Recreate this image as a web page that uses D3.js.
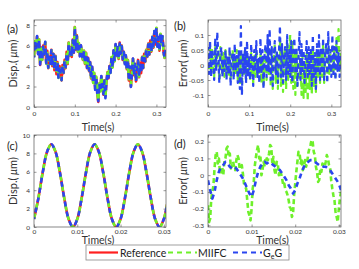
<!DOCTYPE html>
<html><head><meta charset="utf-8">
<script src="https://cdn.jsdelivr.net/npm/d3@7/dist/d3.min.js"></script>
<style>body{margin:0;background:#fff}svg{display:block;font-family:Lato,"Open Sans",sans-serif}</style>
</head><body><svg id="c" width="359" height="269"></svg>
<script>
// ---------- DATA ----------
const stepLong = 0.0025;   // sampling of panels (a),(b)
const stepC = 0.001;       // sampling of panel (c)
const stepD = 0.0005;      // sampling of GeG error in panel (d)
const stepDfine = 0.00025; // sampling of MIIFC error in panel (d)

const refA = [
4.9,6.4,5.6,6.9,5.2,6.6,4.1,5.8,4.6,6.0,
5.1,6.3,4.3,5.5,3.8,4.9,4.2,5.6,4.0,5.2,
3.6,5.0,3.2,4.4,2.9,4.0,3.4,2.6,4.1,3.3,
4.6,3.8,5.4,4.2,6.3,5.0,5.8,4.9,6.6,5.3,
7.8,5.6,7.0,5.4,6.2,5.0,6.0,5.2,4.6,5.5,
4.2,5.3,3.8,4.8,3.5,4.4,2.8,3.9,2.4,3.3,
1.8,2.9,1.4,0.5,2.3,1.6,3.0,2.1,1.2,2.6,
1.0,2.4,3.4,2.8,4.0,3.4,4.8,3.9,5.5,4.5,
6.1,5.0,5.8,4.7,6.3,5.2,6.0,4.6,5.4,4.3,
5.0,3.7,4.6,2.6,3.9,2.0,3.4,4.7,3.1,4.2,
2.5,3.8,4.6,2.9,4.3,3.3,4.9,3.8,5.2,4.4,
5.6,4.9,6.2,5.1,6.5,5.4,6.8,5.8,7.4,6.1,
7.7,6.0,6.8,5.5,7.1,6.2,6.9,5.4,4.8,5.6];

const errGeG_B = [
0.06,-0.03,0.08,-0.04,0.05,0.02,-0.05,0.09,-0.02,0.11,
0.04,-0.06,0.03,0.06,-0.04,0.02,-0.02,0.05,-0.05,0.03,
-0.03,0.06,-0.07,0.02,0.04,-0.05,0.07,-0.02,0.03,-0.06,
0.05,-0.08,0.13,-0.1,0.04,-0.03,0.06,-0.06,0.08,-0.04,
0.03,-0.05,0.07,0.0,-0.07,0.05,-0.02,0.08,-0.04,0.02,
-0.06,0.09,-0.03,0.05,-0.08,0.03,0.07,-0.04,0.1,-0.02,
0.12,-0.05,0.06,-0.07,0.03,0.08,-0.03,0.05,-0.06,0.04,
0.13,-0.04,0.07,-0.06,0.02,0.06,-0.05,0.1,-0.03,0.05,
-0.04,0.08,-0.06,0.04,0.09,-0.03,0.06,-0.07,0.02,0.11,
-0.05,0.07,-0.02,0.05,-0.06,0.03,0.08,-0.04,0.06,-0.03,
0.05,-0.07,0.1,-0.04,0.04,-0.08,0.07,-0.02,0.1,-0.05,
0.06,-0.03,0.09,-0.05,0.04,0.07,-0.06,0.11,-0.02,0.05,
-0.04,0.1,-0.03,0.06,-0.05,0.08,-0.02,0.04,-0.04,0.03];

const errMIIFC_B = [
0.04,-0.02,0.06,-0.03,0.05,0.0,-0.04,0.06,-0.01,0.03,
0.05,-0.05,0.06,0.02,-0.03,0.04,-0.04,0.05,-0.02,0.03,
-0.04,0.04,-0.05,0.03,0.05,-0.04,0.02,-0.03,0.05,-0.05,
0.03,-0.06,0.04,-0.07,0.02,-0.03,0.05,-0.05,0.03,-0.02,
0.02,-0.05,0.04,-0.02,-0.06,0.03,-0.04,0.05,-0.03,0.01,
-0.05,0.04,-0.06,0.03,-0.07,0.02,0.05,-0.05,0.04,-0.03,
0.06,-0.07,0.05,-0.08,0.02,0.07,-0.06,0.04,-0.08,0.03,
0.08,-0.07,0.05,-0.09,0.03,0.06,-0.08,0.07,-0.05,0.04,
0.1,-0.06,0.08,-0.08,0.04,-0.1,0.05,-0.07,0.03,-0.05,
0.02,-0.1,0.03,-0.11,0.01,-0.09,0.04,-0.12,0.02,-0.08,
0.04,-0.1,0.06,-0.07,0.02,-0.09,0.05,-0.04,0.03,-0.06,
0.05,-0.04,0.07,-0.06,0.03,0.06,-0.05,0.08,-0.03,0.04,
-0.03,0.07,-0.02,0.05,-0.04,0.09,0.02,0.12,-0.02,0.04];

const refC = [0.86,3.11,5.89,8.14,9.0,8.14,5.89,3.11,0.86,0.0,
0.86,3.11,5.89,8.14,9.0,8.14,5.89,3.11,0.86,0.0,
0.86,3.11,5.89,8.14,9.0,8.14,5.89,3.11,0.86,0.0,
0.86,3.11];

const errMIIFC_D = [
-0.18,-0.28,-0.26,-0.14,-0.10,-0.06,0.04,0.12,0.14,0.07,
0.10,0.01,0.02,0.05,0.00,0.08,0.10,0.16,0.17,0.11,
0.13,0.04,0.06,0.08,0.05,0.03,0.09,0.12,0.10,0.04,
0.05,0.06,0.01,-0.05,-0.07,-0.08,-0.15,-0.22,-0.24,-0.27,
-0.20,-0.08,-0.04,0.06,0.11,0.15,0.18,0.10,0.12,0.00,
0.03,0.08,0.05,0.11,0.10,0.09,0.13,0.18,0.17,0.07,
0.11,0.03,0.00,0.08,0.07,0.00,0.03,0.01,-0.02,-0.06,
-0.05,-0.09,-0.10,-0.12,-0.15,-0.19,-0.20,-0.25,-0.23,-0.12,
-0.05,0.02,0.08,0.14,0.13,0.07,0.10,0.03,0.05,0.09,
0.05,0.08,0.13,0.16,0.18,0.21,0.20,0.14,0.12,0.05,
0.02,-0.04,-0.03,0.04,0.02,0.07,0.06,0.05,0.08,0.12,
0.10,0.06,0.04,-0.03,-0.08,-0.12,-0.15,-0.22,-0.25,-0.28,
-0.20,-0.14,-0.10];

const errGeG_D = [
-0.03,-0.09,-0.14,-0.10,-0.03,0.02,0.05,0.06,0.08,0.07,
0.05,0.04,0.05,0.04,0.02,0.00,-0.02,-0.05,-0.08,-0.11,
-0.13,-0.09,-0.03,0.02,0.05,0.07,0.08,0.07,0.08,0.07,
0.06,0.05,0.04,0.03,0.01,-0.01,-0.03,-0.06,-0.08,-0.11,
-0.09,-0.05,-0.02,0.02,0.05,0.07,0.08,0.09,0.09,0.08,
0.07,0.06,0.06,0.05,0.05,0.04,0.03,0.01,-0.01,-0.03,
-0.05,-0.09];

const ticksLongX = [0,0.1,0.2,0.3];
const ticksShortX = [0,0.01,0.02,0.03];
const ticksA = [0,2,4,6,8];
const ticksB = [-0.1,-0.05,0,0.05,0.1];
const ticksC = [0,2,4,6,8,10];
const ticksD = [-0.3,-0.2,-0.1,0,0.1,0.2];

const legendNames = ["Reference","MIIFC","GeG"];
const colors = {ref:"#ff1f1f", miifc:"#6ef02a", geg:"#2a46f0"};

// ---------- DRAW ----------
const svg = d3.select("#c");
const fmt = d => String(+d.toFixed(4));
let clipId = 0;

function panel(o){
  const x = d3.scaleLinear().domain(o.xd).range([o.l,o.r]);
  const y = d3.scaleLinear().domain(o.yd).range([o.b,o.t]);
  const g = svg.append("g");
  const id = "clip"+(clipId++);
  svg.append("clipPath").attr("id",id).append("rect")
    .attr("x",o.l).attr("y",o.t).attr("width",o.r-o.l).attr("height",o.b-o.t);
  const pg = g.append("g").attr("clip-path",`url(#${id})`);
  o.series.forEach(s=>{
    const line = d3.line().x((d,i)=>x(i*s.step)).y(d=>y(d));
    if (s.curve) line.curve(s.curve);
    pg.append("path").attr("d",line(s.data)).attr("fill","none")
      .attr("stroke",s.color).attr("stroke-width",s.w)
      .attr("stroke-dasharray",s.dash||null).attr("stroke-dashoffset",s.off||0)
      .attr("stroke-linejoin","round");
  });
  const ac = "#555";
  const xa = g.append("g").attr("transform",`translate(0,${o.b})`)
    .call(d3.axisBottom(x).tickValues(o.xt).tickFormat(fmt).tickSizeInner(-2.5).tickSizeOuter(0).tickPadding(o.xpad));
  const ya = g.append("g").attr("transform",`translate(${o.l},0)`)
    .call(d3.axisLeft(y).tickValues(o.yt).tickFormat(fmt).tickSizeInner(-2.5).tickSizeOuter(0).tickPadding(4));
  const xt = g.append("g").attr("transform",`translate(0,${o.t})`)
    .call(d3.axisTop(x).tickValues(o.xt).tickFormat("").tickSizeInner(-2.5).tickSizeOuter(0));
  const yr = g.append("g").attr("transform",`translate(${o.r},0)`)
    .call(d3.axisRight(y).tickValues(o.yt).tickFormat("").tickSizeInner(-2.5).tickSizeOuter(0));
  [xa,ya,xt,yr].forEach(a=>{
    a.select(".domain").remove();
    a.selectAll("line").attr("stroke",ac).attr("stroke-width",0.6);
    a.selectAll("text").attr("fill","#333").style("font-size","6.5px").style("font-family","Lato,sans-serif");
  });
  g.append("rect").attr("x",o.l).attr("y",o.t).attr("width",o.r-o.l).attr("height",o.b-o.t)
    .attr("fill","none").attr("stroke",ac).attr("stroke-width",0.7);
  g.append("text").attr("x",(o.l+o.r)/2-2).attr("y",o.xly).attr("text-anchor","middle")
    .style("font-size","10.5px").attr("fill","#333").text("Time(s)");
  const yl = g.append("text").attr("transform",`translate(${o.yx},${(o.t+o.b)/2}) rotate(-90)`)
    .attr("text-anchor","middle").style("font-size","11px").attr("fill","#333");
  yl.append("tspan").text(o.yl);
  yl.append("tspan").style("font-style","italic").text(" μ");
  yl.append("tspan").text("m)");
  g.append("text").attr("x",o.px).attr("y",o.py).style("font-size","11px").attr("fill","#222").text(o.label);
}

const outM_A = refA.map((v,i)=>v-errMIIFC_B[i]);
const outG_A = refA.map((v,i)=>v-errGeG_B[i]);

panel({l:34,r:166,t:20,b:107,xd:[0,0.3235],yd:[0,8.5],xt:ticksLongX,yt:ticksA,
  yl:"Disp.(",yx:17,label:"(a)",px:7,py:33,xly:131,xpad:4,
  series:[
    {data:refA,step:stepLong,color:colors.ref,w:2.6},
    {data:outM_A,step:stepLong,color:colors.miifc,w:2.6,dash:"6 4"},
    {data:outG_A,step:stepLong,color:colors.geg,w:2.6,dash:"5 5",off:3}
  ]});
panel({l:208,r:341,t:20,b:107,xd:[0,0.3235],yd:[-0.14,0.15],xt:ticksLongX,yt:ticksB,
  yl:"Error(",yx:187,label:"(b)",px:174,py:30,xly:131,xpad:4,
  series:[
    {data:errMIIFC_B,step:stepLong,color:colors.miifc,w:2.2,dash:"6 4"},
    {data:errGeG_B,step:stepLong,color:colors.geg,w:2.2,dash:"5 4",off:2}
  ]});
panel({l:34,r:166,t:135,b:227,xd:[0,0.0305],yd:[0,10],xt:ticksShortX,yt:ticksC,
  yl:"Disp.(",yx:17,label:"(c)",px:7,py:150,xly:243.5,xpad:2.5,
  series:[
    {data:refC,step:stepC,color:colors.ref,w:2.6,curve:d3.curveCatmullRom},
    {data:refC,step:stepC,color:colors.miifc,w:2.6,dash:"6 4",curve:d3.curveCatmullRom},
    {data:refC,step:stepC,color:colors.geg,w:2.6,dash:"5 5",off:3,curve:d3.curveCatmullRom}
  ]});
panel({l:208,r:341,t:135,b:227,xd:[0,0.0305],yd:[-0.31,0.24],xt:ticksShortX,yt:ticksD,
  yl:"Error(",yx:187,label:"(d)",px:174,py:148,xly:243.5,xpad:2.5,
  series:[
    {data:errMIIFC_D,step:stepDfine,color:colors.miifc,w:2.6,dash:"5 3"},
    {data:errGeG_D,step:stepD,color:colors.geg,w:2.6,dash:"5 4"}
  ]});

// legend
const lg = svg.append("g");
lg.append("rect").attr("x",86).attr("y",245).attr("width",203).attr("height",15)
  .attr("fill","#fff").attr("stroke","#888").attr("stroke-width",0.8);
const items = [
  {x1:89,x2:118,tx:120,c:colors.ref,dash:null},
  {x1:168,x2:197,tx:198,c:colors.miifc,dash:"5 4"},
  {x1:233,x2:262,tx:263,c:colors.geg,dash:"5 4"}];
items.forEach((it,i)=>{
  lg.append("line").attr("x1",it.x1).attr("x2",it.x2).attr("y1",252.5).attr("y2",252.5)
    .attr("stroke",it.c).attr("stroke-width",2.2).attr("stroke-dasharray",it.dash);
  const t = lg.append("text").attr("x",it.tx).attr("y",256.5).style("font-size","10.5px").attr("fill","#222");
  if (legendNames[i]==="GeG"){
    t.append("tspan").text("G");
    t.append("tspan").attr("dy",2).style("font-size","7px").text("e");
    t.append("tspan").attr("dy",-2).text("G");
  } else t.text(legendNames[i]);
});
</script></body></html>
